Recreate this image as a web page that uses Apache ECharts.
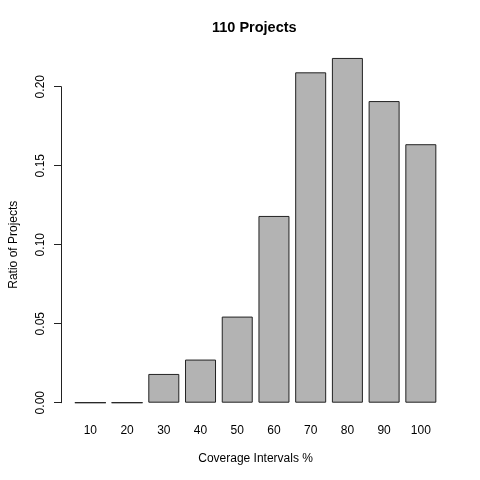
<!DOCTYPE html>
<html>
<head>
	<meta charset="utf-8">
	<title>110 Projects</title>
	<script src="https://cdn.jsdelivr.net/npm/echarts@6/dist/echarts.min.js"></script>
	<style>
		html, body { margin: 0; padding: 0; background: #fff; }
		#chart { width: 480px; height: 480px; }
	</style>
</head>
<body>
<div id="chart"></div>
<script>
	// coverage intervals and ratio of projects (counts out of 110)
	var intervals = ['10', '20', '30', '40', '50', '60', '70', '80', '90', '100'];
	var ratios = [0, 0, 0.0182, 0.0273, 0.0545, 0.1182, 0.2091, 0.2182, 0.1909, 0.1636];
	var yTicks = [0, 0.05, 0.10, 0.15, 0.20];

	var fontName = 'Liberation Sans, Arial, Helvetica, sans-serif';

	var myChart = echarts.init(document.getElementById('chart'), null, {renderer: 'canvas'});

	var option = {
		animation: false,
		backgroundColor: '#ffffff',
		title: {
			text: '110 Projects',
			left: 212,
			top: 20,
			padding: 0,
			textStyle: {fontFamily: fontName, fontSize: 14.5, fontWeight: 'bold', color: '#000'}
		},
		grid: {left: 70.2, top: 86.7, width: 369, height: 316, containLabel: false},
		xAxis: {
			type: 'category',
			data: intervals,
			axisLine: {show: false},
			axisTick: {show: false},
			axisLabel: {
				margin: 22,
				fontFamily: fontName, fontSize: 12, color: '#000'
			},
			name: 'Coverage Intervals %',
			nameLocation: 'middle',
			nameGap: 50,
			nameTextStyle: {fontFamily: fontName, fontSize: 12, color: '#000'}
		},
		yAxis: {
			type: 'value',
			min: 0,
			max: 0.2,
			interval: 0.05,
			offset: 11,
			splitLine: {show: false},
			axisLine: {show: true, lineStyle: {color: '#222', width: 1}},
			axisTick: {show: true, length: 7, lineStyle: {color: '#222', width: 1}},
			axisLabel: {
				rotate: 90,
				margin: 14,
				fontFamily: fontName, fontSize: 12, color: '#000',
				formatter: function (v) { return v.toFixed(2); }
			},
			name: 'Ratio of Projects',
			nameLocation: 'middle',
			nameGap: 41,
			nameRotate: 90,
			nameTextStyle: {fontFamily: fontName, fontSize: 12, color: '#000'}
		},
		series: [{
			type: 'bar',
			data: ratios,
			barWidth: 31,
			clip: false,
			itemStyle: {color: '#b3b3b3', borderColor: '#222', borderWidth: 1}
		}]
	};

	myChart.setOption(option);
</script>
</body>
</html>
